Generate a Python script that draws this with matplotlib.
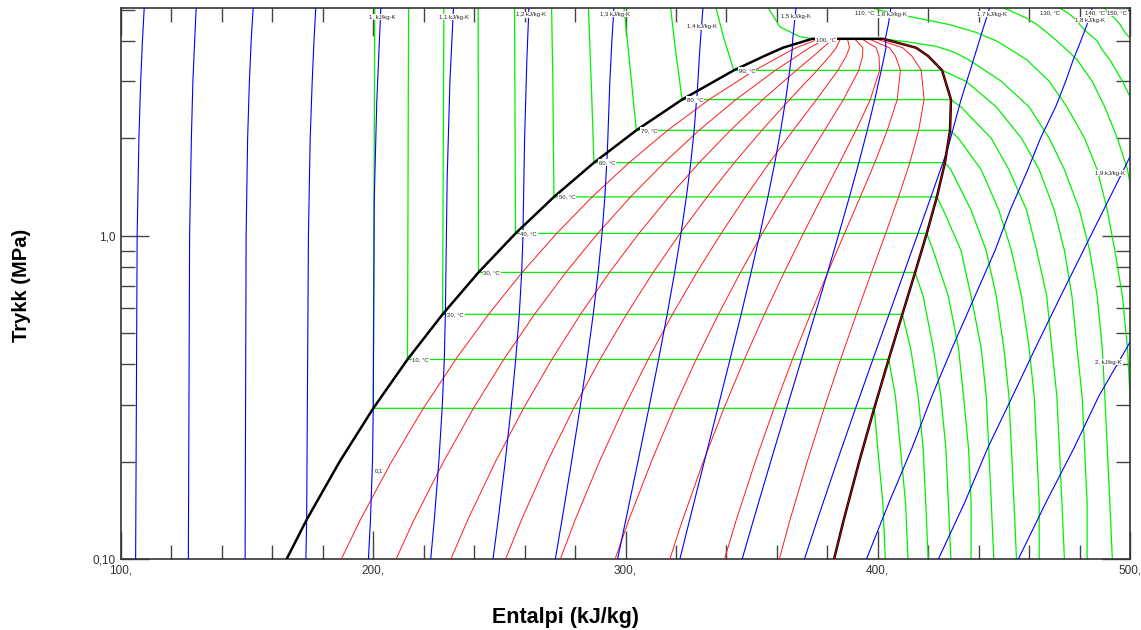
import matplotlib
matplotlib.use("Agg")
import matplotlib.pyplot as plt
from matplotlib.ticker import FixedLocator, NullFormatter

plt.rcParams["font.family"] = ["Liberation Sans", "DejaVu Sans"]

# saturation table (R134a)
sat_T = [-30, -20, -10, 0, 10, 20, 30, 40, 50, 60, 70, 80, 90, 95, 98, 100]
sat_P = [0.08438, 0.13273, 0.20060, 0.29280, 0.41461, 0.57171, 0.77020, 1.0166,
         1.3179, 1.6818, 2.1168, 2.6332, 3.2442, 3.5912, 3.81, 4.06]
sat_hf = [160.79, 173.64, 186.70, 200.00, 213.58, 227.49, 241.72, 256.41,
          271.62, 287.50, 304.28, 322.39, 342.93, 355.0, 362.4, 374.0]
sat_hg = [380.32, 386.55, 392.66, 398.60, 404.32, 409.75, 414.82, 419.43,
          423.44, 426.63, 428.65, 429.03, 425.5, 420.0, 415.2, 402.0]
sat_sf = [0.8486, 0.9002, 0.9506, 1.0000, 1.0485, 1.0963, 1.1435, 1.1905,
          1.2375, 1.2848, 1.3332, 1.3836, 1.4390, 1.4707, 1.4899, 1.5200]
sat_sg = [1.7515, 1.7413, 1.7334, 1.7271, 1.7221, 1.7180, 1.7145, 1.7111,
          1.7073, 1.7024, 1.6956, 1.6856, 1.6664, 1.6473, 1.6322, 1.5950]

# superheated vapour, isotherms 0..100 C (h in kJ/kg at sup_P, low pressure first)
sup_P = [0.1, 0.15, 0.22, 0.32, 0.45, 0.65, 0.9, 1.2, 1.6, 2.0, 2.5, 3.0, 3.5, 4.0, 4.5, 5.055]
sup_h = {
    0: [403, 402, 400],
    10: [412, 411, 409, 407],
    20: [420, 419, 418, 416, 413],
    30: [429, 428, 427, 425, 422, 418],
    40: [437, 437, 436, 434, 432, 428, 422],
    50: [446, 445, 444, 443, 441, 437, 433, 426],
    60: [455, 454, 453, 452, 450, 447, 443, 437, 429],
    70: [464, 464, 463, 462, 460, 457, 453, 448, 441, 432],
    80: [474, 473, 472, 471, 469, 467, 463, 459, 452, 445, 433],
    90: [483, 483, 482, 481, 479, 477, 474, 470, 464, 457, 447, 435],
    100: [493, 492, 491, 490, 489, 487, 484, 480, 474, 468, 460, 449, 436],
}
# 100 C isotherm close to the top of the dome
iso100_P = [3.7, 3.85, 3.97, 4.06]
iso100_h = [430.0, 423.0, 412.0, 402.0]

# supercritical isotherms 110..150 C
hot_P = [0.1, 0.15, 0.22, 0.32, 0.45, 0.65, 0.9, 1.2, 1.6, 2.0, 2.5, 3.0, 3.5, 3.75,
         4.0, 4.25, 4.5, 4.7, 4.9, 5.055]
hot_h = {
    110: [502, 501, 501, 500, 499, 497, 494, 491, 487, 482, 475, 468, 459, 453, 447, 439, 428, 416, 404, 398],
    120: [512, 511, 511, 510, 509, 507, 505, 502, 499, 495, 490, 485, 479, 475, 471, 467, 463, 459, 454, 450],
    130: [522, 522, 521, 520, 519, 518, 516, 513, 510, 506, 502, 497, 492, 489, 487, 483, 480, 478, 475, 472],
    140: [532, 532, 532, 531, 530, 528, 526, 524, 521, 518, 514, 509, 505, 503, 501, 498, 496, 494, 491, 490],
    150: [543, 543, 542, 541, 540, 539, 537, 535, 531, 528, 524, 520, 515, 513, 511, 508, 506, 504, 501, 499],
}

# liquid parts of isotherms (P, h)
liq_iso = {
    0: ([0.2928, 5.055], [200.0, 200.6]),
    10: ([0.41461, 5.055], [213.58, 214.0]),
    20: ([0.57171, 5.055], [227.49, 228.0]),
    30: ([0.7702, 5.055], [241.72, 241.6]),
    40: ([1.0166, 5.055], [256.41, 256.0]),
    50: ([1.3179, 3.0, 5.055], [271.62, 271.2, 270.7]),
    60: ([1.6818, 3.0, 5.055], [287.5, 286.4, 285.3]),
    70: ([2.1168, 3.5, 5.055], [304.28, 301.5, 299.4]),
    80: ([2.6332, 3.0, 3.75, 5.055], [322.39, 321.5, 319.8, 317.9]),
    90: ([3.2442, 3.41, 4.12, 5.055], [342.93, 342.1, 338.8, 335.9]),
    100: ([4.06, 4.12, 4.42, 5.055], [374.0, 369.2, 361.2, 356.6]),
}

# isentropes in the liquid only (kJ/kg-K -> (P, h))
ent_liq = {
    0.6: ([0.1, 1.0, 2.0, 3.0, 4.0, 5.055], [105.8, 106.4, 107.1, 107.8, 108.5, 109.2]),
    0.7: ([0.1, 1.0, 2.0, 3.0, 4.0, 5.055], [126.7, 127.2, 127.9, 128.5, 129.2, 129.8]),
    0.8: ([0.1, 1.0, 2.0, 3.0, 4.0, 5.055], [149.2, 149.6, 150.2, 150.9, 151.6, 152.4]),
    0.9: ([0.1, 0.133, 1.0, 2.0, 3.0, 4.0, 5.055], [173.3, 173.6, 174.3, 175.0, 175.8, 176.5, 177.2]),
}
# isentropes crossing the dome: the part outside it (P, h)
ent_cont = {
    1.0: ([1.3, 2.6, 5.055], [200.4, 201.4, 203.0]),
    1.1: ([0.585, 1.5, 3.0, 5.055], [228.6, 229.3, 230.4, 231.8]),
    1.2: ([1.073, 2.0, 3.5, 5.055], [259.4, 260.0, 260.9, 261.7]),
    1.3: ([1.81, 3.0, 4.0, 5.055], [292.8, 293.8, 294.6, 295.4]),
    1.4: ([2.81, 3.5, 4.2, 5.055], [328.5, 329.2, 329.9, 330.7]),
    1.5: ([4.06, 5.055], [366.3, 367.6]),
    1.6: ([4.06, 4.5, 5.055], [403.0, 404.2, 405.2]),
    1.7: ([1.84, 2.63, 3.59, 5.055], [427.6, 433.0, 438.4, 444.3]),
}
# isentropes in superheated vapour only, h at sup_P
ent_sup = {
    1.8: [395.5, 404.5, 413.5, 421.5, 429.5, 438.5, 446.5, 452.5, 459.5, 464.5, 470.5, 474.5, 477.5, 480.5, 483.0, 485.0],
    1.9: [424.0, 434.5, 443.5, 453.5, 462.5, 472.5, 481.5, 489.5, 497.5, 503.5, 509.5, 514.5, 518.5, 522.5, 525.5, 529.5],
    2.0: [455.7, 466.7, 477.7, 487.7, 498.7, 509.7, 519.7, 528.7, 537.7, 544.7, 551.7, 557.7, 562.7, 566.7, 570.7, 574.7],
}
qualities = [0.1, 0.2, 0.3, 0.4, 0.5, 0.6, 0.7, 0.8, 0.9]

# ---- figure
fig = plt.figure(figsize=(11.41, 6.30), dpi=100)
ax = fig.add_axes([121 / 1141, 70.7 / 630, 1009 / 1141, 551.3 / 630])
ax.set_yscale("log")
ax.set_xlim(100, 500)
ax.set_ylim(0.1, 5.055)

GREEN, BLUE, RED = "#00f000", "#0000ff", "#ff1a1a"

# isotherms
for t, hv in sup_h.items():
    hp = sup_P[:len(hv)]
    lp, lh = liq_iso[t]
    if t < 100:
        i = sat_T.index(t)
        P = lp[::-1] + [sat_P[i], sat_P[i]] + hp[::-1]
        H = lh[::-1] + [sat_hf[i], sat_hg[i]] + hv[::-1]
        ax.plot(H, P, color=GREEN, lw=0.9, zorder=2)
    else:
        ax.plot(lh, lp, color=GREEN, lw=0.9, zorder=2)
        ax.plot(hv + iso100_h, hp + iso100_P, color=GREEN, lw=0.9, zorder=2)
for t, hv in hot_h.items():
    ax.plot(hv, hot_P, color=GREEN, lw=0.9, zorder=2)

# quality lines
for x in qualities:
    ax.plot([a + x * (b - a) for a, b in zip(sat_hf, sat_hg)], sat_P, color=RED, lw=0.7, zorder=3)

# isentropes
for s, (lp, lh) in ent_liq.items():
    ax.plot(lh, lp, color=BLUE, lw=0.8, zorder=4)
for s, (cp, ch) in ent_cont.items():
    P, H = [], []
    for i in range(len(sat_T)):
        if sat_sf[i] <= s <= sat_sg[i]:
            x = (s - sat_sf[i]) / (sat_sg[i] - sat_sf[i])
            P.append(sat_P[i])
            H.append(sat_hf[i] + x * (sat_hg[i] - sat_hf[i]))
    ax.plot(H + ch, P + cp, color=BLUE, lw=0.8, zorder=4)
for s, hv in ent_sup.items():
    ax.plot(hv, sup_P, color=BLUE, lw=0.8, zorder=4)

# saturation dome
ax.plot(sat_hf + sat_hg[::-1], sat_P + sat_P[::-1], color="black", lw=1.8, zorder=5)
ax.plot(sat_hg, sat_P, color="#e00000", lw=0.6, zorder=6)

# labels
lab = dict(fontsize=4.3, color="#222222", zorder=7,
           bbox=dict(facecolor="white", edgecolor="none", pad=0.5))
for i, t in enumerate(sat_T):
    if 10 <= t <= 90 and t % 10 == 0:
        ax.annotate("%d, °C" % t, xy=(sat_hf[i], sat_P[i]), xytext=(3.5, 0),
                    textcoords="offset points", ha="left", va="center", **lab)
ax.text(379.4, 4.04, "100, °C", ha="center", va="center", **lab)
top_labels = [("110, °C", 394.9), ("130, °C", 468.3), ("140, °C", 486.1), ("150, °C", 495.0)]
for txt, h in top_labels:
    ax.text(h, 4.88, txt, ha="center", va="center", **lab)
s_labels = [("1, kJ/kg-K", 203.5, 4.74), ("1,1 kJ/kg-K", 232.2, 4.74), ("1,2 kJ/kg-K", 262.7, 4.81),
            ("1,3 kJ/kg-K", 295.8, 4.84), ("1,4 kJ/kg-K", 330.3, 4.42), ("1,5 kJ/kg-K", 367.5, 4.75),
            ("1,6 kJ/kg-K", 405.8, 4.81), ("1,7 kJ/kg-K", 445.3, 4.84), ("1,8 kJ/kg-K", 484.3, 4.64),
            ("1,9 kJ/kg-K", 491.9, 1.562), ("2, kJ/kg-K", 491.5, 0.407)]
for txt, h, p in s_labels:
    ax.text(h, p, txt, ha="center", va="center", **lab)
ax.text(202.1, 0.1875, "0,1", ha="center", va="center", **lab)

# axes styling
ax.xaxis.set_major_locator(FixedLocator([100, 200, 300, 400, 500]))
ax.xaxis.set_minor_locator(FixedLocator(list(range(120, 500, 20))))
ax.set_xticklabels(["100,", "200,", "300,", "400,", "500,"])
ax.yaxis.set_major_locator(FixedLocator([0.1, 1.0]))
ax.yaxis.set_minor_locator(FixedLocator([0.2, 0.3, 0.4, 0.5, 0.6, 0.7, 0.8, 0.9, 2, 3, 4, 5]))
ax.yaxis.set_minor_formatter(NullFormatter())
ax.set_yticklabels(["0,10", "1,0"])
ax.tick_params(which="both", direction="in", top=True, right=True, color="#444444",
               labelcolor="#333333", labelsize=8.5, pad=4)
ax.tick_params(which="major", length=20, width=1.0)
ax.tick_params(which="minor", length=10, width=1.0)
for sp in ax.spines.values():
    sp.set_color("#333333")
    sp.set_linewidth(1.2)

fig.text(565 / 1141, 1 - 617 / 630, "Entalpi (kJ/kg)", ha="center", va="center",
         fontsize=15.5, fontweight="bold")
fig.text(22 / 1141, 1 - 285 / 630, "Trykk (MPa)", ha="center", va="center",
         fontsize=14.5, fontweight="bold", rotation=90)

fig.savefig("out.png", dpi=100)
